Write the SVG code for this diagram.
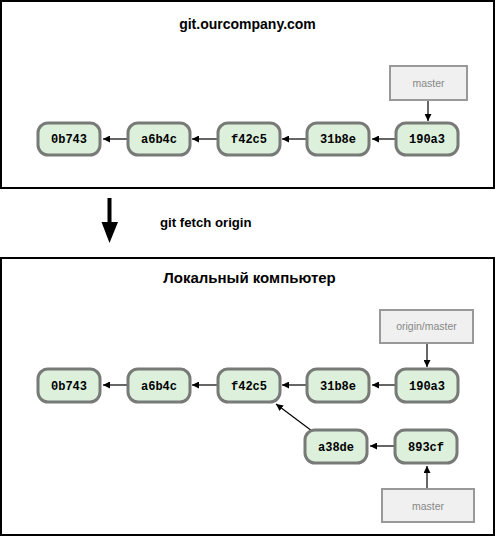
<svg xmlns="http://www.w3.org/2000/svg" width="496" height="537" viewBox="0 0 496 537">
<defs>
<marker id="ah" viewBox="0 0 10 10" refX="10" refY="5" markerWidth="7" markerHeight="7" markerUnits="userSpaceOnUse" orient="auto"><path d="M0,0 L10,5 L0,10 z" fill="#000"/></marker>
</defs>
<style>
.frame{fill:#fff;stroke:#000;stroke-width:2}
.commit rect{fill:#dcf0dc;stroke:#777a77;stroke-width:3}
.commit text{font-family:"Liberation Mono",monospace;font-weight:bold;font-size:12px;fill:#000;text-anchor:middle}
.ref rect{fill:#f0f0f0;stroke:#999;stroke-width:2}
.ref text{font-family:"Liberation Sans",Arial,sans-serif;font-size:10.5px;fill:#888;text-anchor:middle}
.title{font-family:"Liberation Sans",Arial,sans-serif;font-weight:bold;font-size:14px;fill:#000;text-anchor:middle}
.conn line{stroke:#000;stroke-width:1.2;marker-end:url(#ah)}
</style>
<rect class="frame" x="1" y="1" width="493" height="187"/>
<rect class="frame" x="1" y="258" width="493" height="277"/>
<text class="title" x="247.5" y="29">git.ourcompany.com</text>
<text class="title" x="249.5" y="283" style="font-size:15px">Локальный компьютер</text>
<g id="fetch">
<rect x="107.5" y="198" width="4" height="25" fill="#000"/>
<path d="M101.5,222 L118,222 L109.5,243 z" fill="#000"/>
<text x="160" y="227" font-family="Liberation Sans, Arial, sans-serif" font-weight="bold" font-size="13.2" fill="#000">git fetch origin</text>
</g>
<g id="connectors" class="conn">
<line x1="127" y1="139" x2="103" y2="139"/>
<line x1="217" y1="139" x2="192" y2="139"/>
<line x1="306" y1="139" x2="282" y2="139"/>
<line x1="395" y1="139" x2="372" y2="139"/>
<line x1="428" y1="100" x2="428" y2="121"/>
<line x1="127" y1="385" x2="103" y2="385"/>
<line x1="217" y1="385" x2="192" y2="385"/>
<line x1="306" y1="385" x2="282" y2="385"/>
<line x1="395" y1="385" x2="372" y2="385"/>
<line x1="427" y1="343" x2="427" y2="367"/>
<line x1="394" y1="446" x2="370" y2="446"/>
<line x1="427" y1="489" x2="427" y2="466"/>
<line x1="312" y1="431" x2="276" y2="404"/>
</g>
<g id="t-0b743" class="commit"><rect x="38" y="123" width="62" height="32" rx="10"/><text x="69" y="143">0b743</text></g>
<g id="t-a6b4c" class="commit"><rect x="128" y="123" width="62" height="32" rx="10"/><text x="159" y="143">a6b4c</text></g>
<g id="t-f42c5" class="commit"><rect x="218" y="123" width="62" height="32" rx="10"/><text x="249" y="143">f42c5</text></g>
<g id="t-31b8e" class="commit"><rect x="307" y="123" width="62" height="32" rx="10"/><text x="338" y="143">31b8e</text></g>
<g id="t-190a3" class="commit"><rect x="396" y="123" width="62" height="32" rx="10"/><text x="427" y="143">190a3</text></g>
<g id="t-master" class="ref"><rect x="390" y="66" width="77" height="34"/><text x="428.5" y="86.5">master</text></g>
<g id="b-0b743" class="commit"><rect x="38" y="369" width="62" height="33" rx="10"/><text x="69" y="389.5">0b743</text></g>
<g id="b-a6b4c" class="commit"><rect x="128" y="369" width="62" height="33" rx="10"/><text x="159" y="389.5">a6b4c</text></g>
<g id="b-f42c5" class="commit"><rect x="218" y="369" width="62" height="33" rx="10"/><text x="249" y="389.5">f42c5</text></g>
<g id="b-31b8e" class="commit"><rect x="307" y="369" width="62" height="33" rx="10"/><text x="338" y="389.5">31b8e</text></g>
<g id="b-190a3" class="commit"><rect x="396" y="369" width="62" height="33" rx="10"/><text x="427" y="389.5">190a3</text></g>
<g id="b-a38de" class="commit"><rect x="305" y="430" width="62" height="33" rx="10"/><text x="336" y="450.5">a38de</text></g>
<g id="b-893cf" class="commit"><rect x="395" y="430" width="62" height="33" rx="10"/><text x="426" y="450.5">893cf</text></g>
<g id="b-origin-master" class="ref"><rect x="380" y="310" width="93" height="33"/><text x="426.5" y="330">origin/master</text></g>
<g id="b-master" class="ref"><rect x="382" y="489" width="92" height="33"/><text x="428" y="509.5">master</text></g>
</svg>
